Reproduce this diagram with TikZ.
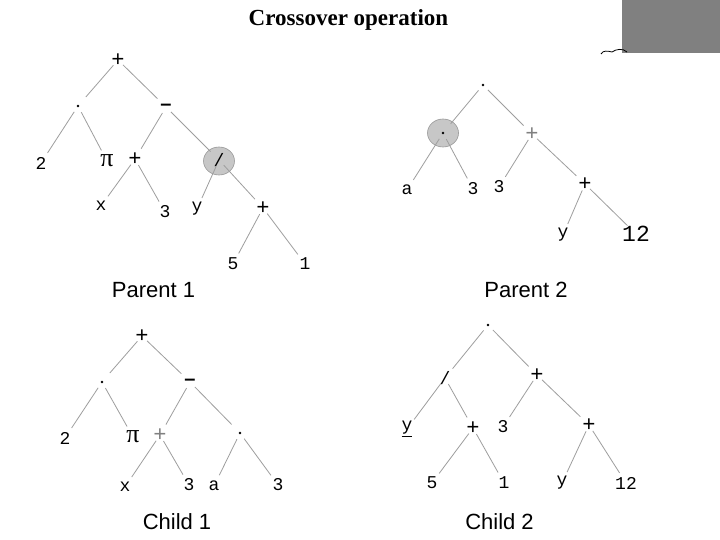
\documentclass[tikz,border=0pt]{standalone}
\usepackage{fontspec}
\usetikzlibrary{shapes.geometric}
\setmainfont{Liberation Serif}
\newfontfamily\monof{Liberation Mono}
\newfontfamily\sansf{Liberation Sans}
\begin{document}
\begin{tikzpicture}[x=1pt,y=-1pt,
  lbl/.style={inner sep=0pt,font=\monof\fontsize{18}{18}\selectfont},
  plus/.style={inner sep=0pt,font=\monof\fontsize{22}{22}\selectfont},
  minus/.style={inner sep=0pt,font=\sansf\bfseries\fontsize{20}{20}\selectfont},
  big/.style={inner sep=0pt,font=\monof\fontsize{23}{23}\selectfont},
  pinode/.style={inner sep=0pt,font=\fontsize{26}{26}\selectfont},
  dotnode/.style={circle,fill=black,inner sep=0pt,minimum size=2.8pt},
  lite/.style={text=black!50},
  conn/.style={draw=black!38,line width=0.8pt,shorten <=7pt,shorten >=12pt},
  hl/.style={ellipse,fill=black!22,draw=black!40,line width=0.6pt,minimum width=31pt,minimum height=28pt,inner sep=0pt},
  captxt/.style={inner sep=0pt,font=\sansf\fontsize{22}{22}\selectfont}
]
\useasboundingbox (0,0) rectangle (720,540);
\fill[white] (0,0) rectangle (720,540);
% top right decoration
\fill[black!50] (622,0) rectangle (720,53);
\draw[line width=0.8pt] (601,54) .. controls (603,50) and (608,51) .. (612,52) .. controls (616,49) and (623,48) .. (627,52);
% title
\node[inner sep=0pt,font=\bfseries\fontsize{23}{23}\selectfont] (title) at (348.5,20) {Crossover operation};

% ---------- Parent 1 ----------
\node[hl] (p1fc) at (219,161) {};
\node[plus] (p1r) at (118,60) {+};
\node[dotnode] (p1a) at (78,106) {};
\node[minus] (p1b) at (166,107) {–};
\node[lbl] (p1c) at (41,163) {2};
\node[pinode] (p1d) at (107,161) {π};
\node[plus] (p1e) at (135,159) {+};
\node[lbl] (p1f) at (219,160) {/};
\node[lbl] (p1g) at (101,206) {x};
\node[lbl] (p1h) at (165,212) {3};
\node[lbl] (p1i) at (197,209) {y};
\node[plus] (p1j) at (263,208) {+};
\node[lbl] (p1k) at (233,264) {5};
\node[lbl] (p1l) at (305,264) {1};
\foreach \a/\b in {r/a,r/b,a/c,a/d,b/e,b/f,e/g,e/h,f/i,f/j,j/k,j/l}
  \path[conn] (p1\a.center) -- (p1\b.center);
\node[captxt] (cp1) at (153.5,290) {Parent 1};

% ---------- Parent 2 ----------
\node[hl] (p2ac) at (443,133) {};
\node[dotnode] (p2r) at (483,85) {};
\node[dotnode] (p2a) at (443,133) {};
\node[plus,lite] (p2b) at (532,134) {+};
\node[lbl] (p2c) at (407,190) {a};
\node[lbl] (p2d) at (473,189) {3};
\node[lbl] (p2e) at (499,187) {3};
\node[plus] (p2f) at (585,184) {+};
\node[lbl] (p2g) at (563,235) {y};
\node[big] (p2h) at (636,234) {12};
\foreach \a/\b in {r/a,r/b,a/c,a/d,b/e,b/f,f/g,f/h}
  \path[conn] (p2\a.center) -- (p2\b.center);
\node[captxt] (cp2) at (526,290) {Parent 2};

% ---------- Child 1 ----------
\node[plus] (c1r) at (142,336) {+};
\node[dotnode] (c1a) at (102,382) {};
\node[minus] (c1b) at (190,382) {–};
\node[lbl] (c1c) at (65,438) {2};
\node[pinode] (c1d) at (133,437) {π};
\node[plus,lite] (c1e) at (160,435) {+};
\node[dotnode] (c1f) at (240,433) {};
\node[lbl] (c1g) at (125,487) {x};
\node[lbl] (c1h) at (189,485) {3};
\node[lbl] (c1i) at (214,486) {a};
\node[lbl] (c1j) at (278,485) {3};
\foreach \a/\b in {r/a,r/b,a/c,a/d,b/e,b/f,e/g,e/h,f/i,f/j}
  \path[conn] (c1\a.center) -- (c1\b.center);
\node[captxt] (cc1) at (177,522) {Child 1};

% ---------- Child 2 ----------
\node[dotnode] (c2r) at (488,325) {};
\node[lbl] (c2a) at (445,378) {/};
\node[plus] (c2b) at (537,375) {+};
\node[lbl] (c2c) at (407,429) {\underline{y}};
\node[plus] (c2d) at (473,428) {+};
\node[lbl] (c2e) at (503,427) {3};
\node[plus] (c2f) at (589,425) {+};
\node[lbl] (c2g) at (432,483) {5};
\node[lbl] (c2h) at (504,483) {1};
\node[lbl] (c2i) at (562,483) {y};
\node[lbl] (c2j) at (626,483) {12};
\foreach \a/\b in {r/a,r/b,a/c,a/d,b/e,b/f,d/g,d/h,f/i,f/j}
  \path[conn] (c2\a.center) -- (c2\b.center);
\node[captxt] (cc2) at (499.5,522) {Child 2};
\end{tikzpicture}
\end{document}
